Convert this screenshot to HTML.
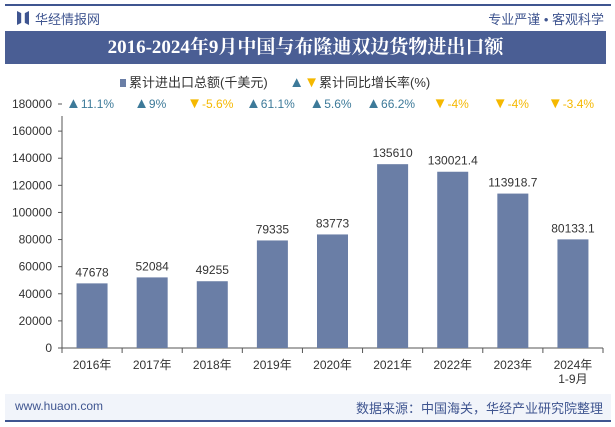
<!DOCTYPE html>
<html><head><meta charset="utf-8"><style>
body{margin:0;background:#fff;font-family:"Liberation Sans","Noto Sans CJK SC",sans-serif;}
#wrap{position:relative;width:615px;height:427px;overflow:hidden;background:#fff;}
.abs{position:absolute;}
</style></head><body>
<div id="wrap">
<div class="abs" style="left:5px;top:4px;width:606px;height:2px;background:#3f5590"></div>
<div class="abs" style="left:17px;top:11px;width:12px;height:14px;background:#3f5590;clip-path:polygon(0 0,35% 15%,35% 85%,0 100%,0 0,100% 0,100% 100%,65% 85%,65% 15%,100% 0)"></div>
<div class="abs" style="left:35px;top:9px;font-size:13px;color:#3f5590">华经情报网</div>
<div class="abs" style="right:11px;top:9px;font-size:13px;color:#3f5590">专业严谨 • 客观科学</div>
<div class="abs" style="left:5px;top:31px;width:601px;height:33px;background:#4a5e94;color:#fff;font-family:'Liberation Serif','Noto Serif CJK SC',serif;font-weight:bold;font-size:19px;line-height:33px;text-align:center">2016-2024年9月中国与布隆迪双边货物进出口额</div>
<div class="abs" style="left:120px;top:72px;font-size:13px;color:#333;white-space:nowrap">
<span><span style="display:inline-block;width:6px;height:8px;background:#6a7ea6;margin-right:3px"></span>累计进出口总额(千美元)</span>
<span style="margin-left:18px"><span style="color:#3d7a99;font-size:15px">▲</span><span style="color:#f5b800;font-size:15px">▼</span>累计同比增长率(%)</span>
</div>
<svg id="chart" class="abs" style="left:0;top:0" width="615" height="427"></svg>
<div class="abs" style="left:5px;top:394px;width:606px;height:26px;background:#f1f4fa"></div>
<div class="abs" style="left:15px;top:399px;font-size:12px;color:#3f5590">www.huaon.com</div>
<div class="abs" style="right:12px;top:398px;font-size:13px;color:#3f5590">数据来源：中国海关，华经产业研究院整理</div>
<div class="abs" style="left:5px;top:420px;width:606px;height:2px;background:#3f5590"></div>
</div>
<script>
const categories=["2016年","2017年","2018年","2019年","2020年","2021年","2022年","2023年","2024年"];
const values=[47678,52084,49255,79335,83773,135610,130021.4,113918.7,80133.1];
const valueLabels=["47678","52084","49255","79335","83773","135610","130021.4","113918.7","80133.1"];
const growth=[11.1,9,-5.6,61.1,5.6,66.2,-4,-4,-3.4];
const yTicks=[0,20000,40000,60000,80000,100000,120000,140000,160000,180000];
const NS="http://www.w3.org/2000/svg";
const svg=document.getElementById('chart');
const x0=62,x1=603,y0=348,y1=104,yMax=180000;
const step=(x1-x0)/categories.length;
const xc=i=>x0+step*(i+0.5);
const ys=v=>y0-(v/yMax)*(y0-y1);
function mk(t,a,txt){const e=document.createElementNS(NS,t);for(const k in a)e.setAttribute(k,a[k]);if(txt!==undefined)e.textContent=txt;svg.appendChild(e);return e;}
const ax=mk('line',{x1:x0,y1:y0,x2:x1,y2:y0,stroke:'#555'});


const ay=mk('line',{x1:x0,y1:y1+12,x2:x0,y2:y0,stroke:'#555'});


yTicks.forEach(t=>{
 const y=ys(t);
 const l=mk('line',{x1:x0-4,y1:y,x2:x0,y2:y,stroke:'#555'});
 
 
 const tx=mk('text',{x:x0-10,y:y+4,'text-anchor':'end','font-size':12,fill:'#333'},t);
 
 
});
for(let i=0;i<=categories.length;i++){
 const t=mk('line',{x1:x0+step*i,y1:y0,x2:x0+step*i,y2:y0+5,stroke:'#555'});
 
 
}
values.forEach((v,i)=>{
 const b=mk('rect',{x:xc(i)-15.5,y:ys(v),width:31,height:y0-ys(v),fill:'#6a7ea6'});
 
 
 const vl=mk('text',{x:xc(i),y:ys(v)-7,'text-anchor':'middle','font-size':12,fill:'#333'},valueLabels[i]);
 
 
 const cl=mk('text',{x:xc(i),y:369,'text-anchor':'middle','font-size':12,fill:'#333'},categories[i]);
 
 
 const g=growth[i];
 const gl=mk('text',{x:xc(i)-2,y:108,'text-anchor':'middle','font-size':12,fill:g>=0?'#3d7a99':'#f5b800'});
 
 
 const tri=document.createElementNS(NS,'tspan');
 tri.setAttribute('font-size','15');
 tri.textContent=g>=0?'▲':'▼';
 gl.appendChild(tri);
 const num=document.createElementNS(NS,'tspan');
 num.textContent=g+'%';
 gl.appendChild(num);
});
const sub=mk('text',{x:xc(8),y:383,'text-anchor':'middle','font-size':12,fill:'#333'},'1-9月');


</script>
</body></html>
